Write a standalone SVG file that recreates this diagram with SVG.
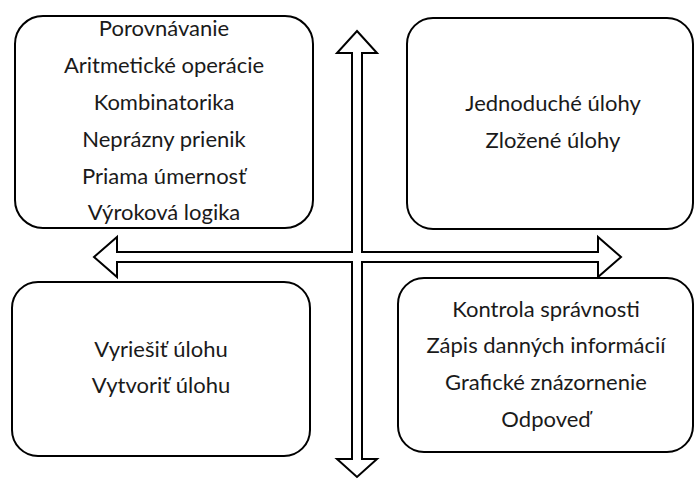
<svg xmlns="http://www.w3.org/2000/svg" width="694" height="479" viewBox="0 0 694 479">
<style>
.box{fill:#fff;stroke:#000;stroke-width:2}
.arrow{fill:#fff;stroke:#000;stroke-width:2;stroke-linejoin:miter}
text{font-family:Lato,"Open Sans","Liberation Sans",sans-serif;font-size:22px;fill:#1a1a1a;text-anchor:middle}
</style>
<rect width="694" height="479" fill="#fff"/>
<g id="connectors">
<polygon class="arrow" points="357,31 377,53 362,53 362,252 598,252 598,237 621,257 598,277 598,262 362,262 362,459 377,459 357,477 337,459 352,459 352,262 117,262 117,277 94,257 117,237 117,252 352,252 352,53 337,53"/>
</g>
<g id="node-tl">
<rect class="box" x="15" y="16" width="298" height="212" rx="28"/>
<text x="164" y="36">Porovnávanie</text>
<text x="164" y="73">Aritmetické operácie</text>
<text x="164" y="110">Kombinatorika</text>
<text x="164" y="147">Neprázny prienik</text>
<text x="164" y="184">Priama úmernosť</text>
<text x="164" y="220">Výroková logika</text>
</g>
<g id="node-tr">
<rect class="box" x="407" y="18" width="286" height="211" rx="26"/>
<text x="553" y="111">Jednoduché úlohy</text>
<text x="553" y="148">Zložené úlohy</text>
</g>
<g id="node-bl">
<rect class="box" x="12" y="282" width="298" height="174" rx="26"/>
<text x="161" y="357">Vyriešiť úlohu</text>
<text x="161" y="393">Vytvoriť úlohu</text>
</g>
<g id="node-br">
<rect class="box" x="398" y="278" width="295" height="174" rx="26"/>
<text x="546" y="317">Kontrola správnosti</text>
<text x="546" y="353">Zápis danných informácií</text>
<text x="546" y="390">Grafické znázornenie</text>
<text x="546" y="427">Odpoveď</text>
</g>
</svg>
